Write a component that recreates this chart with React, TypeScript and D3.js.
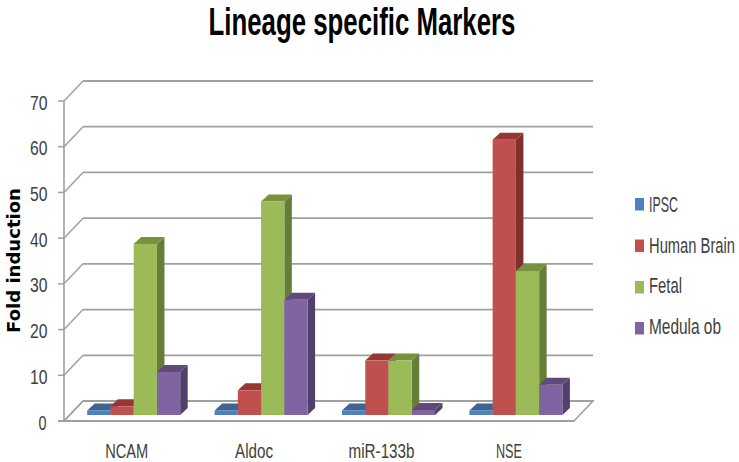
import React from "react";
import * as d3 from "d3";

const categories = ["NCAM", "Aldoc", "miR-133b", "NSE"];
const seriesNames = ["IPSC", "Human Brain", "Fetal", "Medula ob"];
const ipsc = [1, 1, 1, 1];
const humanBrain = [1.9, 5.4, 11.9, 60.2];
const fetal = [37.4, 46.7, 11.9, 31.5];
const medulaOb = [9.4, 25.2, 1.1, 6.6];
const yTicks = [0, 10, 20, 30, 40, 50, 60, 70];

const seriesValues = [ipsc, humanBrain, fetal, medulaOb];
const fronts = ["#4f81bd", "#c0504d", "#9bbb59", "#8064a2"];
const tops = ["#3c6592", "#953735", "#76923c", "#604a7b"];
const sides = ["#355a85", "#7f302e", "#667e3a", "#533f6c"];

const GRID = "#a0a0a0";
const NARROW = "'Liberation Sans Narrow', 'Liberation Sans', sans-serif";
const WIDE = "'DejaVu Sans', sans-serif";
const WALL_DX = 19;
const WALL_DY = 20;
const BAR_LIFT = 6;
const DEPTH_X = 7.5;
const DEPTH_Y = 7;

const y = d3.scaleLinear().domain([0, 70]).range([421, 101]);
const x0 = d3.scaleBand<string>().domain(categories).range([70, 579.6]);
const barBand = 93;
const x1 = d3.scaleBand<string>().domain(seriesNames).range([0, barBand]);
const poly = d3.line();

const legendSwatchTops = [198, 239.5, 281, 322];
const legendBaselines = [212, 253, 293, 334];
const legendWidths = [29, 86, 33, 72];
const categoryWidths = [43, 38, 66, 26];

const measureCtx = document.createElement("canvas").getContext("2d");

// Text squeezed horizontally to an exact width, so its box stays true to what is painted.
function FitText(props: {
  x: number;
  y: number;
  width: number;
  size: number;
  weight?: string;
  family?: string;
  fill: string;
  anchor?: "start" | "middle" | "end";
  rotate?: number;
  children: string;
}) {
  const { x, y: py, width, size, weight = "normal", family = NARROW, fill, anchor = "start", rotate = 0, children } = props;
  let natural = width;
  if (measureCtx) {
    measureCtx.font = `${weight} ${size}px ${family}`;
    natural = measureCtx.measureText(children).width || width;
  }
  const k = width / natural;
  return (
    <text
      transform={`translate(${x},${py}) rotate(${rotate}) scale(${k},1)`}
      textAnchor={anchor}
      fontFamily={family}
      fontSize={size}
      fontWeight={weight}
      fill={fill}
    >
      {children}
    </text>
  );
}

export default function App() {
  const left = 64;
  const right = 574;
  return (
    <svg
      width={739}
      height={462}
      style={{ position: "absolute", left: 0, top: 0, background: "#fff" }}
      fontFamily={NARROW}
    >
      <FitText x={362} y={35} width={307} size={38} weight="bold" fill="#000" anchor="middle">
        Lineage specific Markers
      </FitText>

      {/* floor plate */}
      <path
        d={poly([
          [left, y(0)],
          [left + WALL_DX, y(0) - WALL_DY],
          [right + WALL_DX, y(0) - WALL_DY],
          [right, y(0)],
        ]) + "Z"}
        fill="#fff"
        stroke={GRID}
        strokeWidth={1.6}
      />

      {/* gridlines on the back wall and their returns to the axis */}
      {yTicks.map((t) => (
        <g key={t} stroke={GRID} fill="none">
          <line x1={left + WALL_DX} x2={right + WALL_DX} y1={y(t) - WALL_DY} y2={y(t) - WALL_DY} strokeWidth={1.8} />
          <line x1={left} x2={left + WALL_DX} y1={y(t)} y2={y(t) - WALL_DY} strokeWidth={1.5} />
          <line x1={left - 6} x2={left} y1={y(t)} y2={y(t)} strokeWidth={1.5} />
        </g>
      ))}
      <line x1={left} x2={left} y1={y(70)} y2={y(0)} stroke={GRID} strokeWidth={1.6} />
      <line x1={left - 6} x2={right} y1={y(0)} y2={y(0)} stroke={GRID} strokeWidth={2} />

      {/* value axis */}
      {yTicks.map((t) => (
        <FitText
          key={t}
          x={t === 0 ? 46.5 : 47.5}
          y={y(t) + 8.5}
          width={t === 0 ? 8 : 17.5}
          size={21}
          fill="#404040"
          anchor="end"
        >
          {String(t)}
        </FitText>
      ))}
      <FitText x={20} y={260.5} width={145} size={17} weight="bold" family={WIDE} fill="#000" anchor="middle" rotate={-90}>
        Fold induction
      </FitText>

      {/* three-dimensional columns */}
      {categories.map((c, ci) => {
        const start = (x0(c) as number) + (x0.bandwidth() - barBand) / 2;
        return (
          <g key={c}>
            {seriesNames.map((s, si) => {
              const v = seriesValues[si][ci];
              const xa = start + (x1(s) as number);
              const xb = xa + x1.bandwidth();
              const yt = y(v) - BAR_LIFT;
              const yb = y(0) - BAR_LIFT;
              return (
                <g key={s}>
                  <path
                    d={poly([
                      [xb, yt],
                      [xb + DEPTH_X, yt - DEPTH_Y],
                      [xb + DEPTH_X, yb - DEPTH_Y],
                      [xb, yb],
                    ]) + "Z"}
                    fill={sides[si]}
                  />
                  <path
                    d={poly([
                      [xa, yt],
                      [xa + DEPTH_X, yt - DEPTH_Y],
                      [xb + DEPTH_X, yt - DEPTH_Y],
                      [xb, yt],
                    ]) + "Z"}
                    fill={tops[si]}
                  />
                  <rect x={xa} y={yt} width={xb - xa} height={yb - yt} fill={fronts[si]} />
                </g>
              );
            })}
            <FitText
              x={(x0(c) as number) + x0.bandwidth() / 2 - 7}
              y={458}
              width={categoryWidths[ci]}
              size={20}
              fill="#404040"
              anchor="middle"
            >
              {c}
            </FitText>
          </g>
        );
      })}

      {/* legend */}
      {seriesNames.map((s, i) => (
        <g key={s}>
          <rect x={635} y={legendSwatchTops[i]} width={9} height={12.5} fill={fronts[i]} />
          <FitText x={649} y={legendBaselines[i]} width={legendWidths[i]} size={22} fill="#404040">
            {s}
          </FitText>
        </g>
      ))}
    </svg>
  );
}
